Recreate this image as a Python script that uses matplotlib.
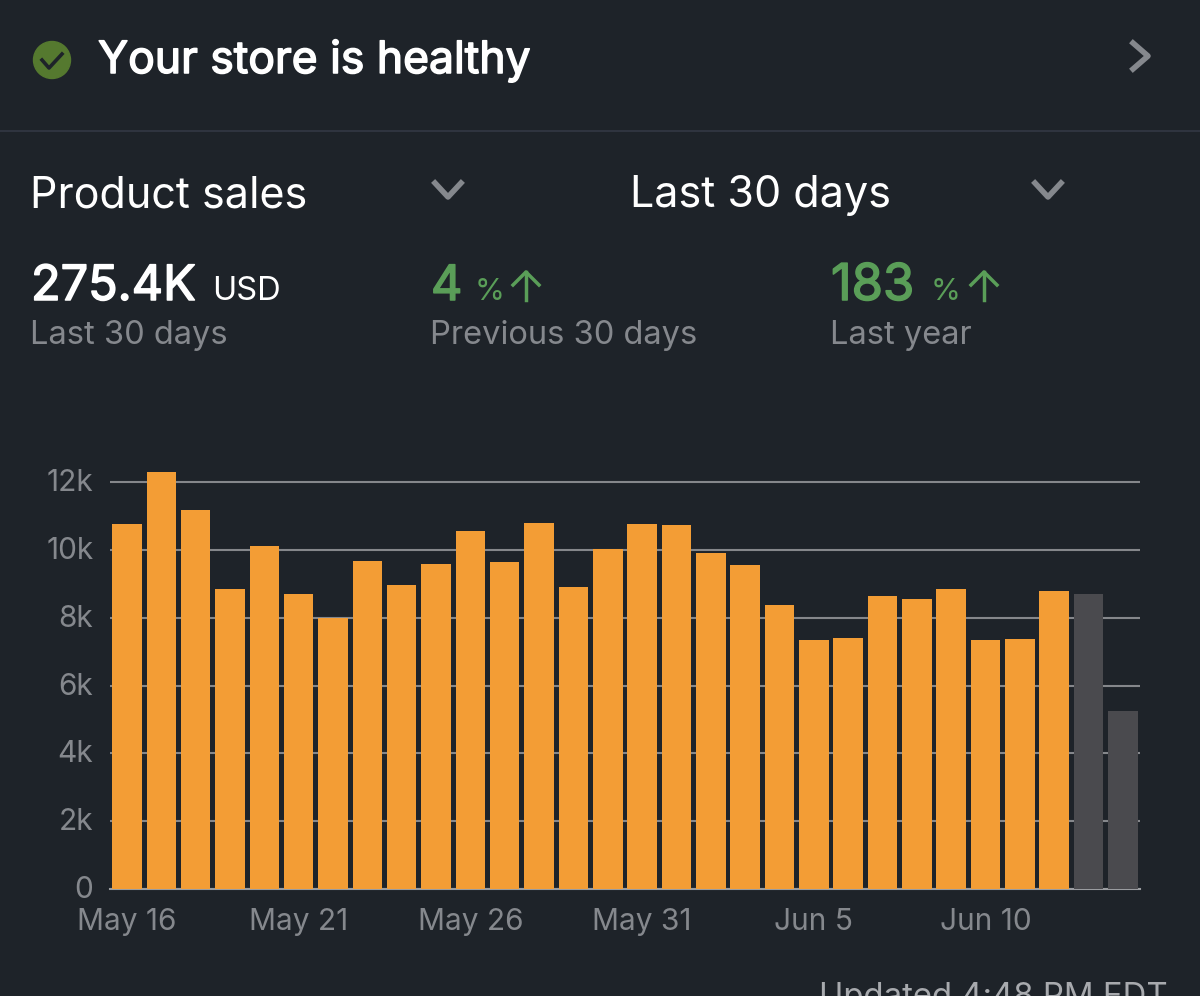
import matplotlib.pyplot as plt
import matplotlib.patheffects as pe
from matplotlib.transforms import ScaledTranslation

days = list(range(30))
sales = [10.76, 12.29, 11.17, 8.84, 10.11, 8.70, 7.99, 9.67, 8.96, 9.58,
         10.55, 9.64, 10.79, 8.90, 10.02, 10.76, 10.73, 9.90, 9.55, 8.37,
         7.34, 7.40, 8.64, 8.55, 8.84, 7.34, 7.37, 8.79]
partial_days = [8.70, 5.25]
ytick_vals = [0, 2, 4, 6, 8, 10, 12]
ytick_labels = ['0', '2k', '4k', '6k', '8k', '10k', '12k']
xtick_pos = [0, 5, 10, 15, 20, 25]
xtick_labels = ['May 16', 'May 21', 'May 26', 'May 31', 'Jun 5', 'Jun 10']

BG = '#1e2329'
ORANGE = '#f39d35'
GREY_BAR = '#4a4a4e'
GRID = '#85878b'
MUTED = '#85888d'
GREEN = '#5a9e58'
W, H = 1200, 996

plt.rcParams['font.family'] = ['Inter', 'DejaVu Sans']

fig = plt.figure(figsize=(W / 100, H / 100), dpi=100, facecolor=BG)

# chart area, pixel box 110..1140 / 460..889
ax = fig.add_axes([110 / W, 1 - 889 / H, 1030 / W, 429 / H], facecolor=BG)
ax.bar(days[:28], sales, width=0.86, color=ORANGE, zorder=3)
ax.bar(days[28:], partial_days, width=0.86, color=GREY_BAR, zorder=3)
ax.set_xlim(-0.495, 29.5)
ax.set_ylim(0, 12.65)
ax.set_yticks(ytick_vals)
ax.set_yticklabels(ytick_labels, fontsize=21.5, color=MUTED)
ax.set_xticks(xtick_pos)
ax.set_xticklabels(xtick_labels, fontsize=21.5, color=MUTED)
ax.tick_params(axis='both', length=0)
ax.tick_params(axis='y', pad=12)
ax.tick_params(axis='x', pad=14)
ax.grid(axis='y', color=GRID, linewidth=1.5, zorder=1)
ax.set_axisbelow(True)
for s in ['top', 'right', 'left']:
    ax.spines[s].set_visible(False)
ax.spines['bottom'].set_color('#9a9ca0')
ax.spines['bottom'].set_linewidth(1.5)

# y labels sit a little above their lines
nudge = ScaledTranslation(0, 2 / 100, fig.dpi_scale_trans)
for lab in ax.get_yticklabels():
    lab.set_transform(lab.get_transform() + nudge)

# everything around the chart, drawn in pixel coords
ui = fig.add_axes([0, 0, 1, 1], facecolor='none')
ui.set_xlim(0, W)
ui.set_ylim(H, 0)
ui.axis('off')

ui.plot([0, W], [131, 131], color='#2f343f', lw=1.5)


def heavy(color):
    # Inter only loads in one weight here, so thicken the strokes by hand
    return [pe.withStroke(linewidth=1.1, foreground=color)]


# header
ui.add_patch(plt.Circle((52, 60), 18.5, color='#55792f'))
ui.plot([42, 49, 62], [60, 68, 54], color='#1e2329', lw=2.6)
ui.text(98, 73, 'Your store is healthy', fontsize=32, color='white',
        va='baseline', path_effects=heavy('white'))
ui.plot([1133, 1148, 1133], [43, 56, 69], color=MUTED, lw=4)

# dropdowns
ui.text(30, 207, 'Product sales', fontsize=31, color='white', va='baseline')
ui.plot([435, 448, 461], [183, 197, 183], color=MUTED, lw=4)
ui.text(630, 207, 'Last 30 days', fontsize=31, color='white', va='baseline')
ui.plot([1035, 1048, 1061], [183, 197, 183], color=MUTED, lw=4)

# stats
ui.text(31, 300, '275.4K', fontsize=35, color='white', va='baseline',
        path_effects=heavy('white'))
ui.text(212, 300, 'USD', fontsize=23.5, color='white', va='baseline')
ui.text(30, 344, 'Last 30 days', fontsize=23.5, color=MUTED, va='baseline')

ui.text(431, 300, '4', fontsize=35, color=GREEN, va='baseline',
        path_effects=heavy(GREEN))
ui.text(475, 300, '%', fontsize=22, color=GREEN, va='baseline')
ui.plot([526, 526], [272, 300], color=GREEN, lw=2.5)
ui.plot([513, 526, 539], [285, 272, 285], color=GREEN, lw=2.5)
ui.text(430, 344, 'Previous 30 days', fontsize=23.5, color=MUTED, va='baseline')

ui.text(831, 300, '183', fontsize=36.5, color=GREEN, va='baseline',
        path_effects=heavy(GREEN))
ui.text(931, 300, '%', fontsize=22, color=GREEN, va='baseline')
ui.plot([984, 984], [272, 300], color=GREEN, lw=2.5)
ui.plot([971, 984, 997], [285, 272, 285], color=GREEN, lw=2.5)
ui.text(830, 344, 'Last year', fontsize=23.5, color=MUTED, va='baseline')

# footer runs off the bottom edge
ui.text(1168, 1006, 'Updated 4:48 PM EDT', fontsize=23.7, color='#a8aaae', ha='right',
        va='baseline', clip_on=False)

fig.savefig('out.png', dpi=100, facecolor=BG)
